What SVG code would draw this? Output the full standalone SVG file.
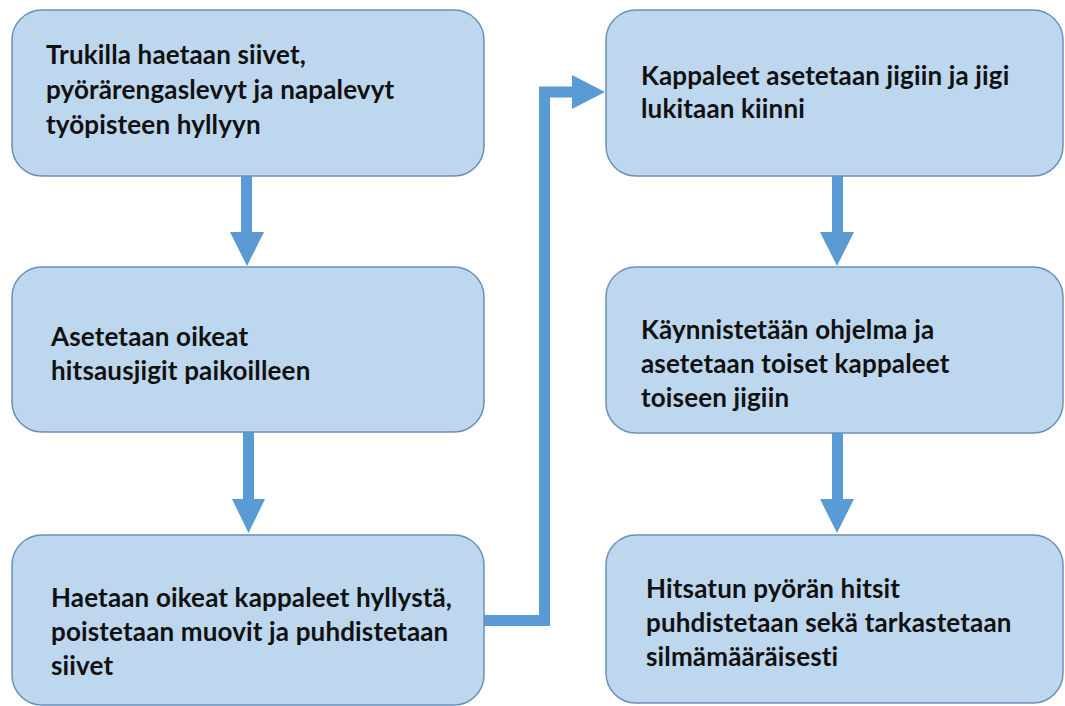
<svg xmlns="http://www.w3.org/2000/svg" width="1065" height="706" viewBox="0 0 1065 706">
<defs>
<style>
.box{fill:#BDD7EE;stroke:#6A90BC;stroke-width:1.5}
.t{font-family:Lato,"Liberation Sans",sans-serif;font-weight:bold;font-size:26px;letter-spacing:0.15px;fill:#111}
.shaft{stroke:#5B9BD5;stroke-width:11;fill:none}
.head{fill:#5B9BD5}
</style>
</defs>
<rect width="1065" height="706" fill="#fff"/>
<g id="connectors">
<line class="shaft" x1="246.5" y1="176" x2="246.5" y2="234"/>
<polygon class="head" points="230,232 264,232 247,266"/>
<line class="shaft" x1="248.5" y1="432" x2="248.5" y2="501"/>
<polygon class="head" points="232,499 265,499 248.5,533"/>
<line class="shaft" x1="837.5" y1="176" x2="837.5" y2="234"/>
<polygon class="head" points="820,232 854,232 837,266"/>
<line class="shaft" x1="837.5" y1="433" x2="837.5" y2="501"/>
<polygon class="head" points="820,499 854,499 837,533"/>
<path class="shaft" d="M484 620.5 H544.5 V92 H575"/>
<polygon class="head" points="572,75 605,92 572,109"/>
</g>
<g id="n1">
<rect class="box" x="12" y="10" width="472" height="166" rx="30"/>
<text class="t" x="46" y="64">Trukilla haetaan siivet,</text>
<text class="t" x="46" y="99">pyörärengaslevyt ja napalevyt</text>
<text class="t" x="46" y="134">työpisteen hyllyyn</text>
</g>
<g id="n2">
<rect class="box" x="12" y="267" width="472" height="165" rx="30"/>
<text class="t" x="51" y="346">Asetetaan oikeat</text>
<text class="t" x="51" y="380">hitsausjigit paikoilleen</text>
</g>
<g id="n3">
<rect class="box" x="12" y="535" width="472" height="170" rx="30"/>
<text class="t" x="51" y="607">Haetaan oikeat kappaleet hyllystä,</text>
<text class="t" x="51" y="641">poistetaan muovit ja puhdistetaan</text>
<text class="t" x="51" y="675">siivet</text>
</g>
<g id="n4">
<rect class="box" x="606" y="10" width="457" height="166" rx="30"/>
<text class="t" x="641" y="85">Kappaleet asetetaan jigiin ja jigi</text>
<text class="t" x="641" y="118">lukitaan kiinni</text>
</g>
<g id="n5">
<rect class="box" x="606" y="267" width="457" height="166" rx="30"/>
<text class="t" x="641" y="339">Käynnistetään ohjelma ja</text>
<text class="t" x="641" y="373">asetetaan toiset kappaleet</text>
<text class="t" x="641" y="407">toiseen jigiin</text>
</g>
<g id="n6">
<rect class="box" x="606" y="535" width="457" height="168" rx="30"/>
<text class="t" x="646" y="598">Hitsatun pyörän hitsit</text>
<text class="t" x="646" y="632">puhdistetaan sekä tarkastetaan</text>
<text class="t" x="646" y="666">silmämääräisesti</text>
</g>
</svg>
